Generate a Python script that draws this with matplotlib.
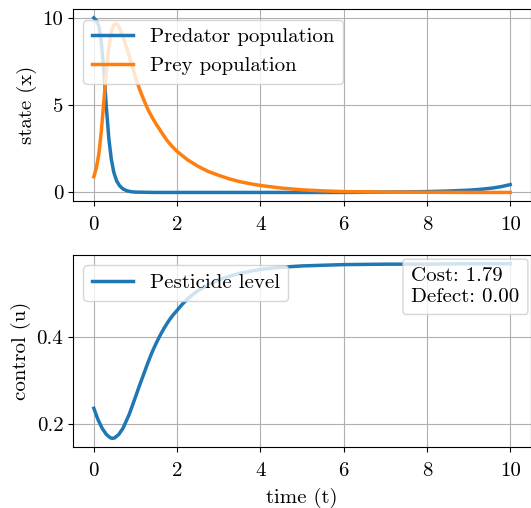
import matplotlib
matplotlib.use("Agg")
import matplotlib.pyplot as plt

plt.rcParams["font.family"] = "serif"
plt.rcParams["font.serif"] = ["cmr10"]
plt.rcParams["axes.unicode_minus"] = False
plt.rcParams["mathtext.fontset"] = "cm"
plt.rcParams["font.size"] = 15

# Values
t_pred = [0, 0.06, 0.12, 0.18, 0.24, 0.3, 0.36, 0.42, 0.48, 0.55, 0.62, 0.7, 0.8, 0.9, 1.0,
          1.2, 1.5, 2, 3, 4, 5, 6, 7, 7.5, 8, 8.5, 9, 9.3, 9.6, 9.8, 10]
predator = [10.0, 9.85, 9.55, 8.6, 7.0, 4.9, 3.1, 1.9, 1.15, 0.65, 0.38, 0.2, 0.09, 0.04, 0.02,
            0.01, 0.0, 0.0, 0.0, 0.0, 0.0, 0.0, 0.02, 0.03, 0.05, 0.08, 0.13, 0.18, 0.26, 0.34, 0.45]

t_prey = [0, 0.06, 0.12, 0.18, 0.24, 0.3, 0.36, 0.42, 0.48, 0.55, 0.62, 0.7, 0.8, 0.9, 1.0,
          1.1, 1.2, 1.3, 1.4, 1.5, 1.625, 1.75, 1.875, 2, 2.25, 2.5, 2.75, 3, 3.25, 3.5, 3.75,
          4, 4.5, 5, 5.5, 6, 7, 8, 9, 10]
prey = [0.9, 1.4, 2.2, 3.5, 5.2, 6.9, 8.3, 9.2, 9.6, 9.65, 9.4, 8.9, 8.2, 7.4, 6.6,
        5.9, 5.3, 4.75, 4.3, 3.9, 3.45, 3.0, 2.65, 2.35, 1.87, 1.5, 1.2, 0.98, 0.78, 0.62, 0.5,
        0.4, 0.25, 0.15, 0.09, 0.05, 0.02, 0.01, 0.0, 0.0]

t_u = [0, 0.1, 0.2, 0.3, 0.4, 0.45, 0.5, 0.6, 0.7, 0.85, 1.0, 1.1, 1.2, 1.3, 1.4, 1.5, 1.6,
       1.7, 1.8, 1.9, 2.0, 2.125, 2.25, 2.375, 2.5, 2.75, 3.0, 3.25, 3.5, 4.0, 4.5, 5.0, 6.0,
       7.0, 8.0, 9.0, 10.0]
pesticide = [0.236, 0.21, 0.19, 0.176, 0.168, 0.167, 0.168, 0.176, 0.19, 0.222, 0.262, 0.289,
             0.315, 0.341, 0.365, 0.386, 0.405, 0.422, 0.437, 0.45, 0.461, 0.475, 0.487, 0.497,
             0.506, 0.52, 0.531, 0.539, 0.546, 0.555, 0.56, 0.563, 0.566, 0.567, 0.567, 0.568,
             0.568]

cost = 1.79
defect = 0.00

fig = plt.figure(figsize=(5.31, 5.08), dpi=100)
ax1 = fig.add_axes([0.1375, 0.604, 0.8625, 0.378])
ax2 = fig.add_axes([0.1375, 0.120, 0.8625, 0.378])

ax1.plot(t_pred, predator, color="#1f77b4", lw=2.5, label="Predator population")
ax1.plot(t_prey, prey, color="#ff7f0e", lw=2.5, label="Prey population")
ax1.set_ylabel("state (x)")
ax1.set_xticks([0, 2, 4, 6, 8, 10])
ax1.set_yticks([0, 5, 10])
ax1.tick_params(axis="x", pad=7)
ax1.grid(True)
ax1.legend(loc="upper left")

ax2.plot(t_u, pesticide, color="#1f77b4", lw=2.5, label="Pesticide level")
ax2.set_ylabel("control (u)")
ax2.set_xlabel("time (t)", labelpad=6)
ax2.set_xticks([0, 2, 4, 6, 8, 10])
ax2.set_yticks([0.2, 0.4])
ax2.tick_params(axis="x", pad=7)
ax2.grid(True)
ax2.legend(loc="upper left")
ax2.text(0.975, 0.935, "Cost: %.2f\nDefect: %.2f" % (cost, defect), transform=ax2.transAxes,
         ha="right", va="top", multialignment="left", linespacing=1.2,
         bbox=dict(boxstyle="round,pad=0.4,rounding_size=0.15", facecolor="white",
                   edgecolor="0.8", alpha=0.8))

fig.savefig("out.png", dpi=100)
